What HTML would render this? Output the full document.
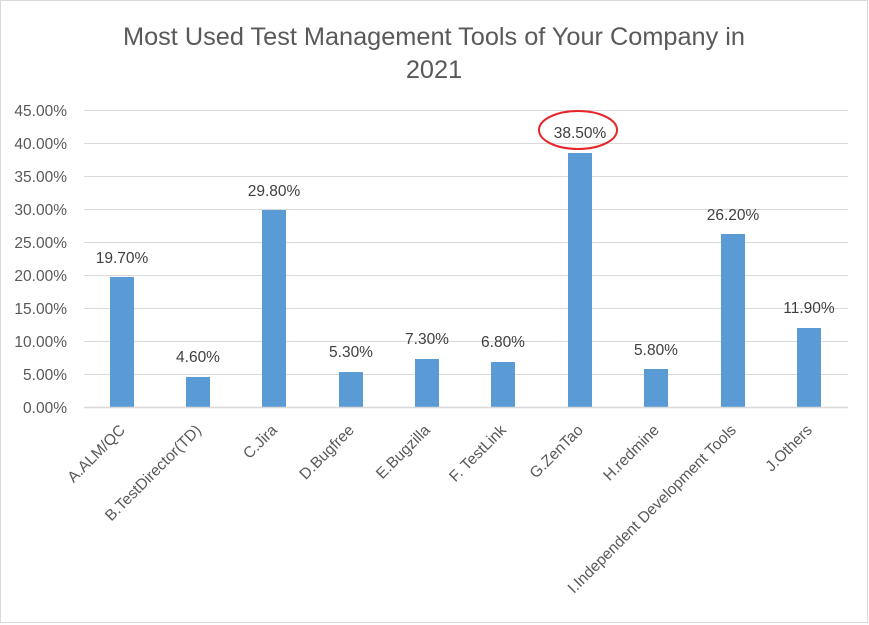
<!DOCTYPE html>
<html><head><meta charset="utf-8"><style>
html,body{margin:0;padding:0;background:#fff;}
svg{display:block;font-family:"Liberation Sans",Calibri,sans-serif;}
</style></head><body>
<svg width="869" height="625" viewBox="0 0 869 625" xmlns="http://www.w3.org/2000/svg">
<rect x="0.5" y="0.5" width="867" height="622" fill="#fff" stroke="#d9d9d9"/>
<text x="434" y="45" font-size="25.3" fill="#595959" text-anchor="middle">Most Used Test Management Tools of Your Company in</text>
<text x="434" y="78" font-size="25.3" fill="#595959" text-anchor="middle">2021</text>
<g stroke="#d9d9d9" stroke-width="1">
<line x1="84" x2="848" y1="110.5" y2="110.5"/><line x1="84" x2="848" y1="143.5" y2="143.5"/>
<line x1="84" x2="848" y1="176.5" y2="176.5"/><line x1="84" x2="848" y1="209.5" y2="209.5"/>
<line x1="84" x2="848" y1="242.5" y2="242.5"/><line x1="84" x2="848" y1="275.5" y2="275.5"/>
<line x1="84" x2="848" y1="308.5" y2="308.5"/><line x1="84" x2="848" y1="341.5" y2="341.5"/>
<line x1="84" x2="848" y1="374.5" y2="374.5"/>
</g>
<g font-size="15.5" fill="#595959" text-anchor="end">
<text x="67" y="116">45.00%</text><text x="67" y="149">40.00%</text><text x="67" y="182">35.00%</text>
<text x="67" y="215">30.00%</text><text x="67" y="248">25.00%</text><text x="67" y="281">20.00%</text>
<text x="67" y="314">15.00%</text><text x="67" y="347">10.00%</text><text x="67" y="380">5.00%</text>
<text x="67" y="413">0.00%</text>
</g>
<g fill="#5b9bd5">
<rect x="110" y="277" width="24" height="130"/>
<rect x="186" y="377" width="24" height="30"/>
<rect x="262" y="210" width="24" height="197"/>
<rect x="339" y="372" width="24" height="35"/>
<rect x="415" y="359" width="24" height="48"/>
<rect x="491" y="362" width="24" height="45"/>
<rect x="568" y="153" width="24" height="254"/>
<rect x="644" y="369" width="24" height="38"/>
<rect x="721" y="234" width="24" height="173"/>
<rect x="797" y="328" width="24" height="79"/>
</g>
<line x1="84" x2="848" y1="407.5" y2="407.5" stroke="#d9d9d9" stroke-width="1.5"/>
<g font-size="15.5" fill="#404040" text-anchor="middle">
<text x="122" y="263">19.70%</text><text x="198" y="362">4.60%</text><text x="274" y="196">29.80%</text>
<text x="351" y="357">5.30%</text><text x="427" y="344">7.30%</text><text x="503" y="347">6.80%</text>
<text x="580" y="138">38.50%</text><text x="656" y="355">5.80%</text><text x="733" y="220">26.20%</text>
<text x="809" y="313">11.90%</text>
</g>
<ellipse cx="578" cy="130" rx="39" ry="19" fill="none" stroke="#e8262a" stroke-width="2"/>
<g font-size="15.5" fill="#595959" text-anchor="end">
<text transform="translate(126,431) rotate(-45)">A.ALM/QC</text>
<text transform="translate(202,431) rotate(-45)">B.TestDirector(TD)</text>
<text transform="translate(278,431) rotate(-45)">C.Jira</text>
<text transform="translate(355,431) rotate(-45)">D.Bugfree</text>
<text transform="translate(431,431) rotate(-45)">E.Bugzilla</text>
<text transform="translate(507,431) rotate(-45)">F. TestLink</text>
<text transform="translate(584,431) rotate(-45)">G.ZenTao</text>
<text transform="translate(660,431) rotate(-45)">H.redmine</text>
<text transform="translate(737,431) rotate(-45)">I.Independent Development Tools</text>
<text transform="translate(813,431) rotate(-45)">J.Others</text>
</g>
</svg>
</body></html>
